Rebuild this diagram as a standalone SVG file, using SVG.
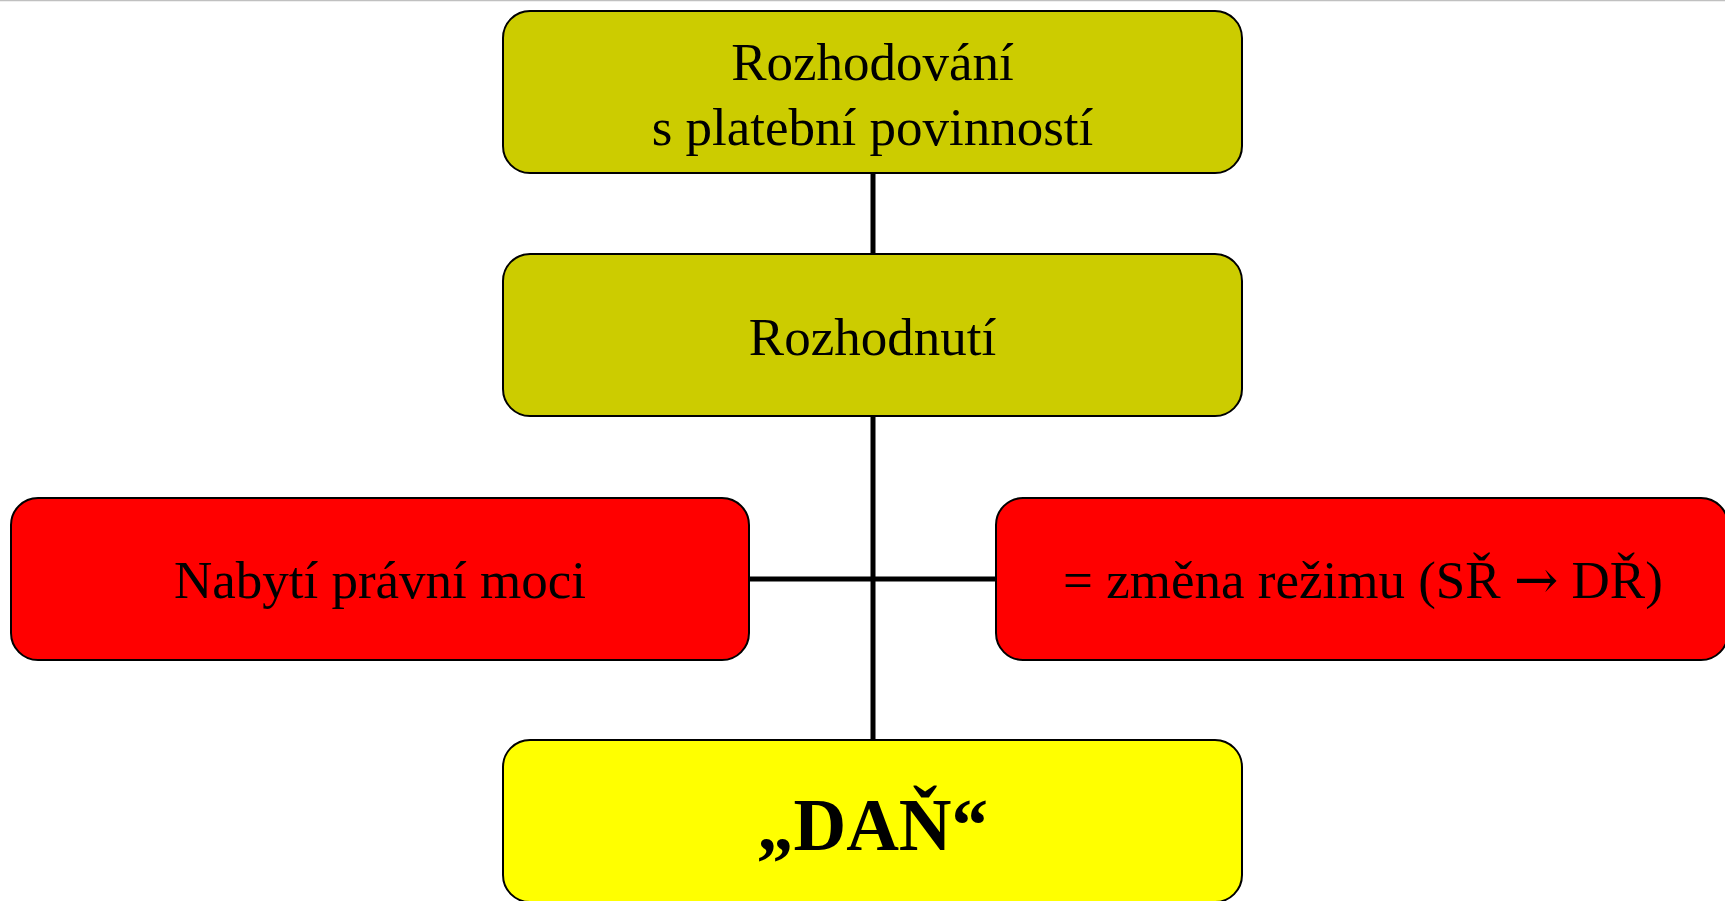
<svg xmlns="http://www.w3.org/2000/svg" width="1725" height="901" viewBox="0 0 1725 901">
<style>
.box{stroke:#000;stroke-width:2}
.olive{fill:#CCCC00}
.red{fill:#FF0000}
.yel{fill:#FFFF00}
.t{font-family:"Liberation Serif","Times New Roman",serif;font-size:53px;fill:#000;text-anchor:middle}
.b{font-family:"Liberation Serif","Times New Roman",serif;font-size:73px;font-weight:bold;fill:#000;text-anchor:middle}
.arr{font-family:"DejaVu Serif",serif}
.c{stroke:#000;stroke-width:5;fill:none}
</style>
<rect width="1725" height="901" fill="#fff"/>
<line x1="0" y1="0.5" x2="1725" y2="0.5" stroke="#c0c0c0" stroke-width="1.5"/>
<g id="connectors">
<line class="c" x1="873" y1="173" x2="873" y2="254"/>
<line class="c" x1="873" y1="416" x2="873" y2="740"/>
<line class="c" x1="749" y1="579" x2="996" y2="579"/>
</g>
<g id="n1">
<rect class="box olive" x="503" y="11" width="739" height="162" rx="27"/>
<text class="t" x="872.5" y="80">Rozhodování</text>
<text class="t" x="872.5" y="145">s platební povinností</text>
</g>
<g id="n2">
<rect class="box olive" x="503" y="254" width="739" height="162" rx="27"/>
<text class="t" x="872.5" y="355">Rozhodnutí</text>
</g>
<g id="n3">
<rect class="box red" x="11" y="498" width="738" height="162" rx="27"/>
<text class="t" x="380" y="598">Nabytí právní moci</text>
</g>
<g id="n4">
<rect class="box red" x="996" y="498" width="732" height="162" rx="27"/>
<text class="t" x="1363" y="598">= změna režimu (SŘ <tspan class="arr">→</tspan> DŘ)</text>
</g>
<g id="n5">
<rect class="box yel" x="503" y="740" width="739" height="162" rx="27"/>
<text class="b" x="872.5" y="850">„DAŇ“</text>
</g>
</svg>
